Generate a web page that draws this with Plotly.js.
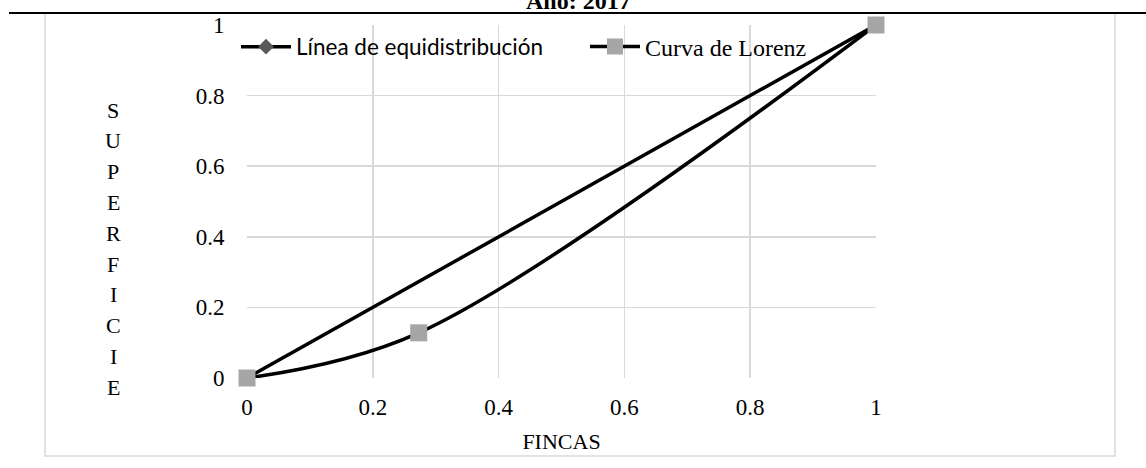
<!DOCTYPE html>
<html><head><meta charset="utf-8">
<script src="https://cdn.plot.ly/plotly-3.0.1.min.js"></script>
<style>html,body{margin:0;padding:0;background:#fff;}#chart{width:1146px;height:468px;}</style>
</head><body><div id="chart"></div>
<script>
const equiX = [0, 1];
const equiY = [0, 1];
const lorenzX = [0, 0.273, 1];
const lorenzY = [0, 0.128, 1];
const tickVals = [0, 0.2, 0.4, 0.6, 0.8, 1];
const tickText = ['0', '0.2', '0.4', '0.6', '0.8', '1'];
const yTitleLetters = ['S','U','P','E','R','F','I','C','I','E'];
const titleText = 'Año: 2017';
const xTitle = 'FINCAS';
const equiName = 'Línea de equidistribución';
const lorenzName = 'Curva de Lorenz';

const W = 1146, H = 468, L = 247, R = 270, T = 25, B = 90;
const pw = W - L - R, ph = H - T - B;
const px = x => (x - L) / pw;
const py = y => (H - B - y) / ph;

const serif = '"Liberation Serif", "Times New Roman", serif';

const traces = [
  {x: equiX, y: equiY, mode: 'lines+markers', name: equiName, legend: 'legend',
   line: {color: '#000', width: 3.5}, marker: {symbol: 'diamond', size: 12, color: '#595959'}, cliponaxis: false},
  {x: lorenzX, y: lorenzY, mode: 'lines+markers', name: lorenzName, legend: 'legend2',
   line: {color: '#000', width: 3.5, shape: 'spline', smoothing: 1}, marker: {symbol: 'square', size: 17, color: '#a6a6a6'}, cliponaxis: false}
];

const annotations = [
  {text: '<b>' + titleText + '</b>', xref: 'paper', yref: 'paper', x: px(578), y: py(1), showarrow: false,
   font: {family: serif, size: 24, color: '#000'}, xanchor: 'center', yanchor: 'middle'}
];
yTitleLetters.forEach((ch, i) => {
  annotations.push({text: ch, xref: 'paper', yref: 'paper', x: px(113), y: py(110 + i * 30.8), showarrow: false,
    font: {family: serif, size: 22, color: '#000'}, xanchor: 'center', yanchor: 'middle'});
});

const layout = {
  width: W, height: H,
  margin: {l: L, r: R, t: T, b: B, pad: 0},
  paper_bgcolor: '#fff', plot_bgcolor: '#fff',
  font: {family: serif, size: 23, color: '#000'},
  showlegend: true,
  legend: {orientation: 'h', x: px(236), y: py(47), xanchor: 'left', yanchor: 'middle',
    bgcolor: 'rgba(0,0,0,0)', font: {family: 'Lato, sans-serif', size: 22.5, color: '#000'}, itemwidth: 50},
  legend2: {orientation: 'h', x: px(585), y: py(47), xanchor: 'left', yanchor: 'middle',
    bgcolor: 'rgba(0,0,0,0)', font: {family: serif, size: 24, color: '#000'}, itemwidth: 50},
  xaxis: {range: [0, 1], tickvals: tickVals, ticktext: tickText, showgrid: true, gridcolor: '#d9d9d9', gridwidth: 1.5,
    zeroline: false, showline: false, ticks: 'outside', ticklen: 8, tickcolor: 'rgba(0,0,0,0)',
    tickfont: {family: serif, size: 23}, title: {text: xTitle, font: {family: serif, size: 22}, standoff: 15}, fixedrange: true},
  yaxis: {range: [0, 1], tickvals: tickVals, ticktext: tickText, showgrid: true, gridcolor: '#d9d9d9', gridwidth: 1.5,
    zeroline: false, showline: false, ticks: 'outside', ticklen: 17, tickcolor: 'rgba(0,0,0,0)',
    tickfont: {family: serif, size: 23}, fixedrange: true},
  annotations: annotations,
  shapes: [
    {type: 'rect', xref: 'paper', yref: 'paper', x0: px(45), x1: px(1115), y0: py(456), y1: py(-20),
     line: {color: '#d9d9d9', width: 1.5}, layer: 'below'},
    {type: 'rect', xref: 'paper', yref: 'paper', x0: px(40), x1: px(1120), y0: py(12), y1: py(-20),
     fillcolor: '#fff', line: {width: 0}, layer: 'below'},
    {type: 'line', xref: 'paper', yref: 'paper', x0: px(9), x1: px(1146), y0: py(13), y1: py(13),
     line: {color: '#000', width: 2}}
  ]
};

Plotly.newPlot('chart', traces, layout, {displayModeBar: false, staticPlot: true});
</script></body></html>
